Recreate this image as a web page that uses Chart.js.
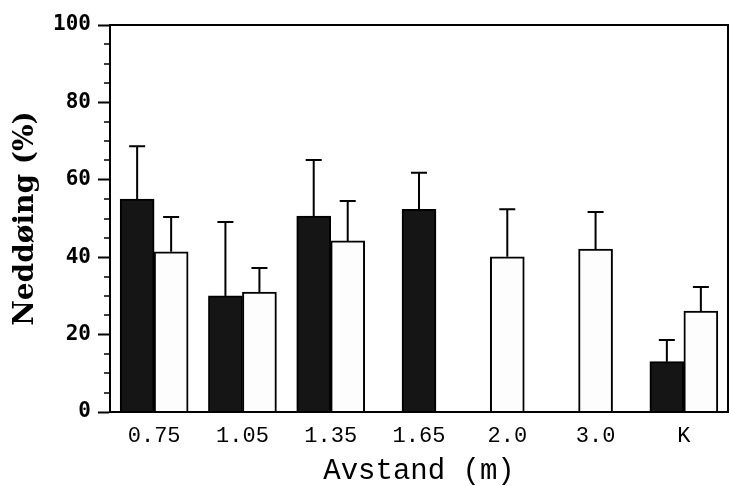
<!DOCTYPE html>
<html>
<head>
<meta charset="utf-8">
<script src="https://cdn.jsdelivr.net/npm/chart.js@4.4.0/dist/chart.umd.min.js"></script>
<style>
  html, body { margin: 0; padding: 0; background: #fff; }
</style>
</head>
<body>
<canvas id="chart" width="730" height="486"></canvas>
<script>
// data
const categories = ["0.75", "1.05", "1.35", "1.65", "2.0", "3.0", "K"];
const darkValues = [55.0, 30.0, 50.6, 52.4, null, null, 13.0];
const darkErrors = [13.7, 19.1, 14.5, 9.4, null, null, 5.6];
const lightValues = [41.4, 31.0, 44.2, null, 40.1, 42.1, 26.1];
const lightErrors = [9.0, 6.2, 10.3, null, 12.3, 9.6, 6.2];
const yTicks = [0, 20, 40, 60, 80, 100];
const yMinorStep = 5;

const errors = [darkErrors, lightErrors];

// error bars (upper only) drawn from bar top
const errorBars = {
  id: "errorBars",
  afterDatasetsDraw(chart) {
    const ctx = chart.ctx;
    const y = chart.scales.y;
    ctx.save();
    ctx.strokeStyle = "#000";
    ctx.lineWidth = 2;
    chart.data.datasets.forEach((ds, i) => {
      const meta = chart.getDatasetMeta(i);
      meta.data.forEach((bar, j) => {
        const v = ds.data[j];
        const e = errors[i][j];
        if (v == null || e == null) return;
        const top = y.getPixelForValue(v + e);
        ctx.beginPath();
        ctx.moveTo(bar.x, bar.y);
        ctx.lineTo(bar.x, top);
        ctx.moveTo(bar.x - 8, top);
        ctx.lineTo(bar.x + 8, top);
        ctx.stroke();
      });
    });
    ctx.restore();
  },
};

// frame + minor ticks on the y axis
const frame = {
  id: "frame",
  afterDraw(chart) {
    const ctx = chart.ctx;
    const a = chart.chartArea;
    const y = chart.scales.y;
    ctx.save();
    ctx.strokeStyle = "#000";
    ctx.lineWidth = 2;
    ctx.strokeRect(a.left, a.top, a.right - a.left, a.bottom - a.top);
    ctx.beginPath();
    for (let v = 0; v <= 100; v += yMinorStep) {
      if (yTicks.includes(v)) continue;
      const py = Math.round(y.getPixelForValue(v));
      ctx.moveTo(a.left - 6, py);
      ctx.lineTo(a.left, py);
    }
    ctx.lineWidth = 1.5;
    ctx.stroke();
    ctx.restore();
  },
};

new Chart(document.getElementById("chart"), {
  type: "bar",
  data: {
    labels: categories,
    datasets: [
      {
        label: "dark",
        data: darkValues,
        backgroundColor: "#151515",
        borderColor: "#000",
        borderWidth: 2,
        borderSkipped: "bottom",
        barThickness: 34,
        skipNull: true,
      },
      {
        label: "light",
        data: lightValues,
        backgroundColor: "#fdfdfd",
        borderColor: "#000",
        borderWidth: 2,
        borderSkipped: "bottom",
        barThickness: 34,
        skipNull: true,
      },
    ],
  },
  options: {
    responsive: false,
    devicePixelRatio: 1,
    animation: false,
    layout: { padding: { top: 25, right: 2, left: 0, bottom: 0 } },
    plugins: {
      legend: { display: false },
      tooltip: { enabled: false },
    },
    scales: {
      x: {
        grid: { display: false, drawTicks: false },
        border: { color: "#000", width: 2 },
        ticks: {
          color: "#000",
          padding: 11,
          font: { family: "Liberation Mono", size: 22 },
        },
        title: {
          display: true,
          text: "Avstand (m)",
          color: "#000",
          padding: { top: 0, bottom: 0 },
          font: { family: "Liberation Mono", size: 29, lineHeight: 1.0 },
        },
        afterFit(scale) { scale.height = 74; },
      },
      y: {
        min: 0,
        max: 100,
        grid: { drawOnChartArea: false, tickLength: 12, tickColor: "#000", tickWidth: 2 },
        border: { color: "#000", width: 2 },
        ticks: {
          stepSize: 20,
          color: "#000",
          padding: 7,
          font: { family: "DejaVu Sans Mono", size: 21, weight: "bold" },
        },
        title: {
          display: true,
          text: "Neddøing (%)",
          color: "#000",
          padding: { top: 9, bottom: 0 },
          font: { family: "DejaVu Serif", size: 28, weight: "bold" },
        },
        afterFit(scale) { scale.width = 110; },
      },
    },
  },
  plugins: [errorBars, frame],
});
</script>
</body>
</html>
